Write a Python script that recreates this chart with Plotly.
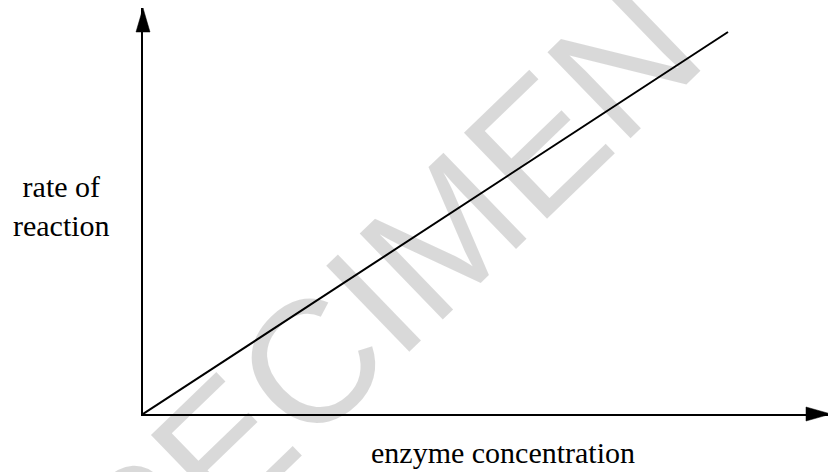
import plotly.graph_objects as go

# Data (arbitrary units: straight proportional line)
enzyme_concentration = [0.0, 1.0]
rate_of_reaction = [0.0, 1.0]

x_label = "enzyme concentration"
y_label = "rate of<br>reaction"
watermark = "SPECIMEN"

W, H = 828, 472
L, R, T, B = 143, 0, 8, 58
pw, ph = W - L - R, H - T - B

fig = go.Figure()
fig.add_trace(go.Scatter(
    x=enzyme_concentration, y=rate_of_reaction, mode="lines",
    line=dict(color="black", width=2), hoverinfo="skip", showlegend=False,
    cliponaxis=False,
))

# arrowheads (decoration) in paper coordinates
alen, ahw = 22, 7
fig.add_shape(type="path", xref="paper", yref="paper",
              path=f"M {1 - alen/pw},{-ahw/ph} L {1 + 3/pw},0 L {1 - alen/pw},{ahw/ph} Z",
              fillcolor="black", line=dict(color="black", width=0.5), layer="above")
fig.add_shape(type="path", xref="paper", yref="paper",
              path=f"M {-ahw/pw},{1 - 24/ph} L 0,1 L {ahw/pw},{1 - 24/ph} Z",
              fillcolor="black", line=dict(color="black", width=0.5), layer="above")

serif = "Liberation Serif, Times New Roman, serif"
fig.add_annotation(text=y_label, xref="paper", yref="paper",
                   x=(61 - L) / pw, y=(414 - 206) / ph, xanchor="center", yanchor="middle",
                   showarrow=False, align="center",
                   font=dict(family=serif, size=30, color="black"))
fig.add_annotation(text=x_label, xref="paper", yref="paper",
                   x=(503 - L) / pw, y=(414 - 452) / ph, xanchor="center", yanchor="middle",
                   showarrow=False, font=dict(family=serif, size=30, color="black"))
fig.add_annotation(text=watermark, xref="paper", yref="paper",
                   x=(341 - L) / pw, y=(414 - 333) / ph, xanchor="center", yanchor="middle",
                   showarrow=False, textangle=-44,
                   font=dict(family="Liberation Sans, Arial, sans-serif", size=174,
                             color="rgba(0,0,0,0.15)"))

fig.update_xaxes(range=[0, pw / 585], showline=True, linecolor="black", linewidth=2,
                 showgrid=False, zeroline=False, showticklabels=False, ticks="",
                 fixedrange=True)
fig.update_yaxes(range=[0, ph / 382], showline=True, linecolor="black", linewidth=2,
                 showgrid=False, zeroline=False, showticklabels=False, ticks="",
                 fixedrange=True)
fig.update_layout(width=W, height=H, margin=dict(l=L, r=R, t=T, b=B),
                  paper_bgcolor="white", plot_bgcolor="white", showlegend=False)

fig.write_html(
    "out.html",
    config={"displayModeBar": False},
    post_script="document.body.style.margin='0px';document.body.style.padding='0px';"
                "document.body.style.overflow='hidden';",
)
